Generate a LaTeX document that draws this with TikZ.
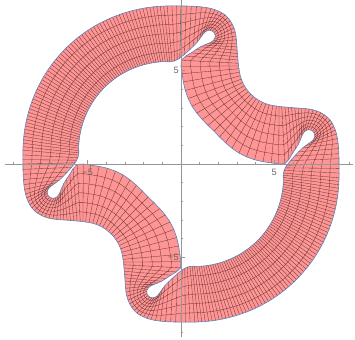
\documentclass[tikz,border=0pt]{standalone}
\usepackage{fontspec}
\newfontfamily\lblfont{Liberation Sans}
\usetikzlibrary{calc}
\newcount\mcnt
\definecolor{bandred}{RGB}{255,150,150}
\definecolor{meshc}{RGB}{112,52,52}
\definecolor{edgeblue}{RGB}{94,129,181}
\definecolor{axisgray}{RGB}{150,150,150}
\definecolor{lblgray}{RGB}{105,105,105}
% quarter keys (135 deg clockwise to the y=x line), inner and outer boundary
\def\qix{{-4.101,-3.725,-3.315,-2.877,-2.416,-1.941,-1.456,-0.967,-0.481,-0.064,0.431,0.861,1.105,1.317,1.552,1.767,1.835,1.717,1.430,1.049,0.543,0.024,0.060,0.229,0.587,1.139,1.764}}
\def\qiy{{4.101,4.439,4.734,4.982,5.182,5.333,5.433,5.485,5.490,5.675,6.096,6.518,6.854,7.101,7.169,7.051,6.816,6.601,6.448,6.284,5.956,5.565,4.841,3.941,3.102,2.386,1.764}}
\def\qox{{-6.187,-5.621,-5.009,-4.355,-3.668,-2.956,-2.226,-1.485,-0.741,0.000,0.550,1.100,1.610,2.010,2.360,2.640,2.840,2.945,2.985,3.010,3.040,3.070,3.108,3.175,3.306,3.498,3.744}}
\def\qoy{{6.187,6.699,7.153,7.543,7.867,8.122,8.307,8.423,8.470,8.470,8.460,8.420,8.335,8.190,7.990,7.680,7.290,6.870,6.460,6.100,5.750,5.400,5.108,4.731,4.370,4.038,3.744}}
\def\qsub{{4,4,4,4,4,4,4,4,3,2,2,2,2,2,2,2,2,2,2,2,2,2,2,2,2,2}}
\newcommand\crcalc[2]{%
  \edef\Pa{\csname #1\gp\endcsname}%
  \edef\Pb{\csname #1\g\endcsname}%
  \edef\Pc{\csname #1\gn\endcsname}%
  \edef\Pd{\csname #1\gnn\endcsname}%
  \pgfmathsetmacro#2{0.5*(2*(\Pb)+((\Pc)-(\Pa))*\tpar+(2*(\Pa)-5*(\Pb)+4*(\Pc)-(\Pd))*\tpar*\tpar+(3*(\Pb)-(\Pa)-3*(\Pc)+(\Pd))*\tpar*\tpar*\tpar)}%
}
\begin{document}
\begin{tikzpicture}[x=1cm,y=1cm,
  meshline/.style={draw=meshc, line width=0.5pt, line cap=round, line join=round},
  edgeline/.style={draw=edgeblue, line width=0.9pt, line join=round},
  axisline/.style={draw=axisgray, line width=1.1pt},
  tickline/.style={draw=axisgray, line width=0.8pt},
  lbl/.style={font=\lblfont\fontsize{14}{16}\selectfont, text=lblgray, inner sep=0pt}]
\useasboundingbox (-9.70,-9.378) rectangle (9.325,8.79);
% build the full loop of keys by symmetry
\foreach \g in {0,...,103} {
  \pgfmathtruncatemacro\qq{floor(\g/26)}
  \pgfmathtruncatemacro\rr{mod(\g,26)}
  \pgfmathtruncatemacro\ss{26-\rr}
  \ifcase\qq\relax
    \pgfmathsetmacro\kA{\qix[\rr]}\pgfmathsetmacro\kB{\qiy[\rr]}%
    \pgfmathsetmacro\kC{\qox[\rr]}\pgfmathsetmacro\kD{\qoy[\rr]}%
  \or
    \pgfmathsetmacro\kA{\qiy[\ss]}\pgfmathsetmacro\kB{\qix[\ss]}%
    \pgfmathsetmacro\kC{\qoy[\ss]}\pgfmathsetmacro\kD{\qox[\ss]}%
  \or
    \pgfmathsetmacro\kA{\qix[\rr]}\pgfmathsetmacro\kB{\qiy[\rr]}%
    \pgfmathsetmacro\kC{\qox[\rr]}\pgfmathsetmacro\kD{\qoy[\rr]}%
    \pgfmathsetmacro\kA{-1*(\kA)}\pgfmathsetmacro\kB{-1*(\kB)}%
    \pgfmathsetmacro\kC{-1*(\kC)}\pgfmathsetmacro\kD{-1*(\kD)}%
  \or
    \pgfmathsetmacro\kA{\qiy[\ss]}\pgfmathsetmacro\kB{\qix[\ss]}%
    \pgfmathsetmacro\kC{\qoy[\ss]}\pgfmathsetmacro\kD{\qox[\ss]}%
    \pgfmathsetmacro\kA{-1*(\kA)}\pgfmathsetmacro\kB{-1*(\kB)}%
    \pgfmathsetmacro\kC{-1*(\kC)}\pgfmathsetmacro\kD{-1*(\kD)}%
  \fi
  \expandafter\xdef\csname kix\g\endcsname{\kA}%
  \expandafter\xdef\csname kiy\g\endcsname{\kB}%
  \expandafter\xdef\csname kox\g\endcsname{\kC}%
  \expandafter\xdef\csname koy\g\endcsname{\kD}%
}
% Catmull-Rom sampling of both boundaries with matched parameter
\global\mcnt=0
\foreach \g in {0,...,103} {
  \pgfmathtruncatemacro\gp{mod(\g+103,104)}
  \pgfmathtruncatemacro\gn{mod(\g+1,104)}
  \pgfmathtruncatemacro\gnn{mod(\g+2,104)}
  \pgfmathtruncatemacro\qq{floor(\g/26)}
  \pgfmathtruncatemacro\rr{mod(\g,26)}
  \ifodd\qq\relax\pgfmathtruncatemacro\rr{25-\rr}\fi
  \pgfmathtruncatemacro\ns{\qsub[\rr]}
  \pgfmathtruncatemacro\nsm{\ns-1}
  \foreach \j in {0,...,\nsm} {
    \pgfmathsetmacro\tpar{\j/\ns}
    \crcalc{kix}\vix \crcalc{kiy}\viy \crcalc{kox}\vox \crcalc{koy}\voy
    \edef\mname{\the\mcnt}
    \coordinate (I-\mname) at (\vix,\viy);
    \coordinate (O-\mname) at (\vox,\voy);
    \global\advance\mcnt by 1\relax
  }
}
\edef\MMm{\the\numexpr\mcnt-1\relax}
% band
\fill[bandred, even odd rule] (O-0) \foreach \m in {1,...,\MMm} {-- (O-\m)} -- cycle
  (I-0) \foreach \m in {1,...,\MMm} {-- (I-\m)} -- cycle;
\foreach \m in {0,...,\MMm} {\draw[meshline] (I-\m) -- (O-\m);}
\foreach \s in {0.1667,0.3333,0.5,0.6667,0.8333} {
  \draw[meshline] ($(I-0)!\s!(O-0)$) \foreach \m in {1,...,\MMm} {-- ($(I-\m)!\s!(O-\m)$)} -- cycle;
}
\draw[edgeline] (O-0) \foreach \m in {1,...,\MMm} {-- (O-\m)} -- cycle;
\draw[edgeline] (I-0) \foreach \m in {1,...,\MMm} {-- (I-\m)} -- cycle;
% axes
\coordinate (xl) at (-9.43,0); \coordinate (xr) at (9.22,0);
\coordinate (yb) at (0,-9.27); \coordinate (yt) at (0,8.79);
\draw[axisline] (xl) -- (xr);
\draw[axisline] (yb) -- (yt);
\foreach \v in {-9,...,-1,1,2,...,9} {\draw[tickline] (\v,0) -- ++(0,0.11);}
\foreach \v in {-9,...,-1,1,2,...,8} {\draw[tickline] (0,\v) -- ++(0.11,0);}
\foreach \v in {-5,5} {\draw[tickline] (\v,0) -- ++(0,0.2); \draw[tickline] (0,\v) -- ++(0.2,0);}
\node[lbl] (lx5) at (5,-0.45) {5};
\node[lbl] (lxm5) at (-5,-0.45) {−5};
\node[lbl, anchor=east] (ly5) at (-0.12,5) {5};
\node[lbl, anchor=east] (lym5) at (-0.12,-5) {−5};
\end{tikzpicture}
\end{document}
